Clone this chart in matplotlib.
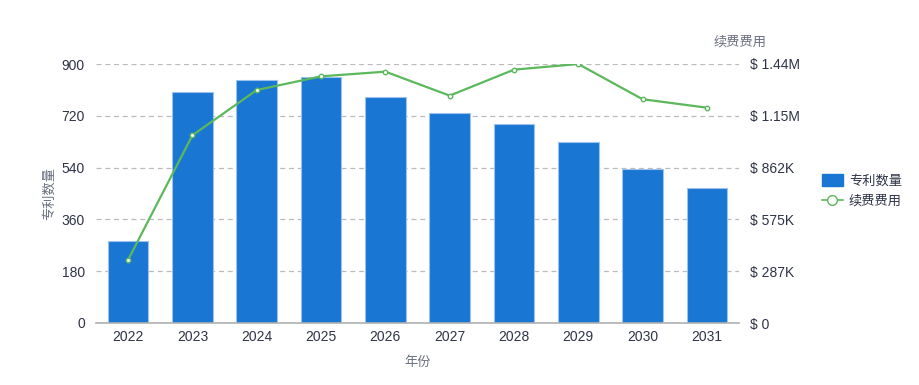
import matplotlib.pyplot as plt
from matplotlib.lines import Line2D
from matplotlib.patches import Patch
from matplotlib.ticker import FixedLocator

plt.rcParams['font.family'] = ['Liberation Sans', 'Noto Sans CJK SC', 'DejaVu Sans']

years = ['2022', '2023', '2024', '2025', '2026', '2027', '2028', '2029', '2030', '2031']
patents = [285, 804, 844, 856, 784, 730, 692, 630, 536, 469]
fees = [351000, 1042000, 1293000, 1369000, 1395000, 1262000, 1406000, 1437500, 1242000, 1195000]

left_ticks = [0, 180, 360, 540, 720, 900]
right_ticks = [0, 287500, 575000, 862500, 1150000, 1437500]
right_labels = ['$ 0', '$ 287K', '$ 575K', '$ 862K', '$ 1.15M', '$ 1.44M']

bar_color = '#1976d2'
line_color = '#5cb85c'
text_color = '#2e3446'
label_color = '#6b7080'
cjk = ['Noto Sans CJK SC', 'DejaVu Sans']

fig = plt.figure(figsize=(9.19, 3.85), dpi=100)
ax = fig.add_axes([96 / 919, 1 - 323 / 385, 643 / 919, 259 / 385])
x = range(len(years))
ax.bar(x, patents, width=0.63, color=bar_color, edgecolor='#9cc3ee', linewidth=0.8, zorder=2)
ax.set_xlim(-0.5, len(years) - 0.5)
ax.set_ylim(0, 900)
ax.yaxis.set_major_locator(FixedLocator(left_ticks))
ax.set_xticks(list(x))
ax.set_xticklabels(years)
ax.grid(axis='y', color='#bbbbbb', linestyle=(0, (4, 3)), linewidth=0.9, zorder=0)
for s in ['top', 'right', 'left']:
    ax.spines[s].set_visible(False)
ax.spines['bottom'].set_color('#b0b0b0')
ax.spines['bottom'].set_linewidth(1.2)
ax.tick_params(axis='both', length=0, labelsize=10, labelcolor=text_color)
ax.tick_params(axis='y', pad=8)
ax.tick_params(axis='x', pad=5)
ax.set_ylabel('专利数量', fontsize=9.5, color=label_color, labelpad=4, family=cjk)
ax.set_xlabel('年份', fontsize=9.5, color=label_color, labelpad=9, family=cjk)

ax2 = ax.twinx()
ax2.plot(x, fees, color=line_color, linewidth=1.6, marker='o', markersize=3.2,
         markerfacecolor='white', markeredgecolor=line_color, markeredgewidth=1, zorder=3)
ax2.set_ylim(0, 1437500)
ax2.set_yticks(right_ticks)
ax2.set_yticklabels(right_labels)
for s in ['top', 'right', 'left', 'bottom']:
    ax2.spines[s].set_visible(False)
ax2.tick_params(axis='y', length=0, labelsize=10, labelcolor=text_color, pad=8)
fig.text(740 / 919, 1 - 42 / 385, '续费费用', fontsize=9.5, color=label_color, ha='center', va='center',
         family=cjk)

handles = [
    Patch(facecolor=bar_color, edgecolor=bar_color),
    Line2D([0], [0], color=line_color, marker='o', markersize=7, markerfacecolor='white',
           markeredgecolor=line_color, linewidth=1.2),
]
fig.legend(handles, ['专利数量', '续费费用'], loc='center left', bbox_to_anchor=(810 / 919, 1 - 191 / 385),
           frameon=False, prop={'family': cjk, 'size': 9.5}, labelcolor=text_color,
           handlelength=1.6, handleheight=1.0, handletextpad=0.45, labelspacing=0.5)

fig.savefig('out.png', dpi=100)
